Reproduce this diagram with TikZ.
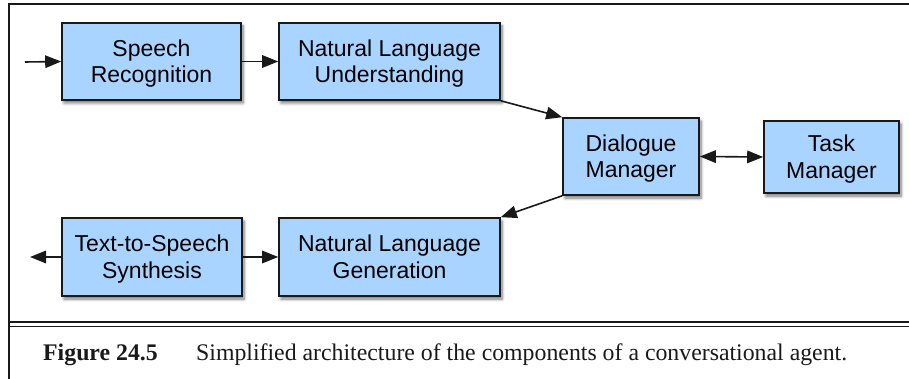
\documentclass[tikz,border=0pt]{standalone}
\usepackage{fontspec}
\setmainfont{Liberation Serif}
\newfontfamily\boxfont{Liberation Sans}
\usetikzlibrary{arrows.meta,shadows.blur}
\definecolor{boxblue}{RGB}{168,212,255}
\definecolor{ink}{RGB}{25,25,25}
\newcommand\boxtext[2]{\raisebox{-2.5pt}[\height][\depth]{\begin{tabular}{@{}c@{}}#1\\#2\end{tabular}}}
\tikzset{
  compbox/.style={draw=ink, line width=1.6pt, fill=boxblue,
    font=\boxfont\fontsize{23}{26.5}\selectfont, inner sep=0pt,
    blur shadow={shadow xshift=2pt, shadow yshift=-3pt, shadow blur steps=6,
      shadow blur radius=3pt, shadow opacity=55}},
  tip/.tip={Triangle[length=16pt,width=12.5pt]},
  flow/.style={draw=ink, line width=1.6pt, -tip},
  bothflow/.style={draw=ink, line width=1.6pt, tip-tip},
  framerule/.style={draw=ink, line width=1.8pt},
  thinrule/.style={draw=ink, line width=1.3pt},
}
\begin{document}
\begin{tikzpicture}[x=1pt,y=-1pt]
\useasboundingbox (0,0) rectangle (909,379);
% frame
\draw[framerule] (9,379) -- (9,4) -- (909,4);
\draw[thinrule] (9,322) -- (909,322);
\draw[thinrule] (9,326.5) -- (909,326.5);
% boxes
\node[compbox, minimum width=179pt, minimum height=77pt] (sr) at (151.5,61.5) {\boxtext{Speech}{Recognition}};
\node[compbox, minimum width=221pt, minimum height=77pt] (nlu) at (389.5,61.5) {\boxtext{Natural Language}{Understanding}};
\node[compbox, minimum width=136pt, minimum height=77pt] (dm) at (631,156.5) {\boxtext{Dialogue}{Manager}};
\node[compbox, minimum width=135pt, minimum height=72pt] (tm) at (831.5,157) {\boxtext{Task}{Manager}};
\node[compbox, minimum width=180pt, minimum height=78pt] (tts) at (152,257) {\boxtext{Text-to-Speech}{Synthesis}};
\node[compbox, minimum width=221pt, minimum height=78pt] (nlg) at (389.5,257) {\boxtext{Natural Language}{Generation}};
% connectors
\coordinate (in) at (25,62);
\coordinate (out) at (30,257);
\draw[flow] (in) -- (sr.west);
\draw[flow] (sr.east) -- (nlu.west);
\draw[flow] (nlu.south east) -- (dm.north west);
\draw[bothflow] (dm.east) -- (tm.west);
\draw[flow] (dm.south west) -- (nlg.north east);
\draw[flow] (tts.west) -- (out);
\draw[flow] (tts.east) -- (nlg.west);
% caption
\node[anchor=base west, font=\fontsize{23.8}{28}\selectfont\bfseries, text=ink, inner sep=0pt] (fig) at (43,360) {Figure 24.5};
\node[anchor=base west, font=\fontsize{23.8}{28}\selectfont, text=ink, inner sep=0pt] (cap) at (196,360) {Simplified architecture of the components of a conversational agent.};
\end{tikzpicture}
\end{document}
